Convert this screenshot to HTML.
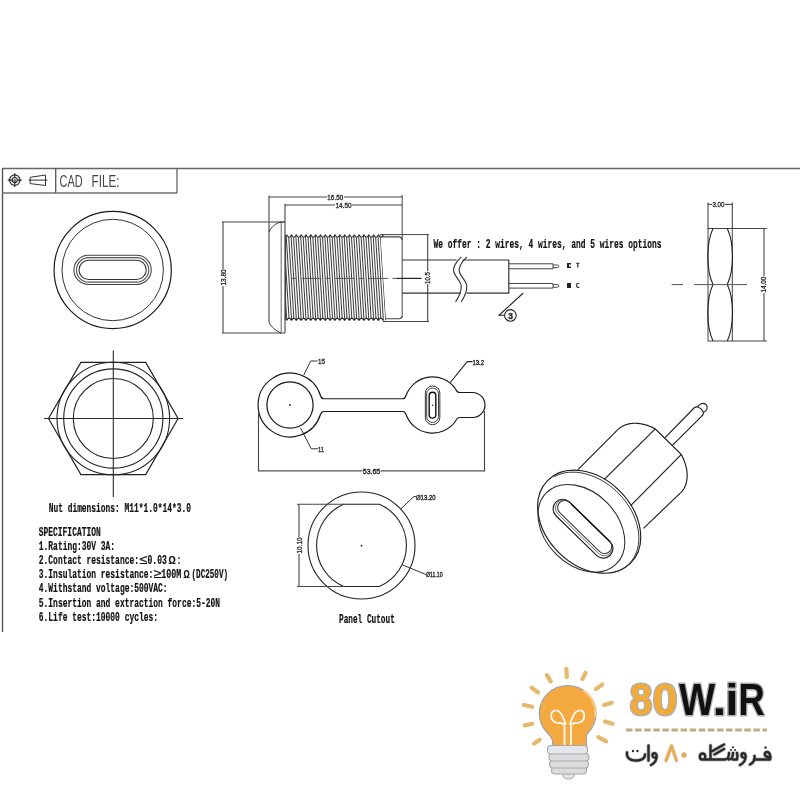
<!DOCTYPE html>
<html><head><meta charset="utf-8"><style>
html,body{margin:0;padding:0;background:#fff;width:800px;height:800px;overflow:hidden}
svg{display:block;will-change:transform}
</style></head><body>
<svg width="800" height="800" viewBox="0 0 800 800">
<rect width="800" height="800" fill="#fff"/>
<line x1="2.5" y1="168.5" x2="800" y2="168.5" stroke="#666" stroke-width="1.3" />
<line x1="2.5" y1="168" x2="2.5" y2="632" stroke="#555" stroke-width="1.4" />
<line x1="2.5" y1="193" x2="177" y2="193" stroke="#707070" stroke-width="1.7" />
<line x1="177" y1="168" x2="177" y2="193" stroke="#666" stroke-width="1.3" />
<line x1="55.7" y1="168" x2="55.7" y2="193" stroke="#555" stroke-width="1.3" />
<circle cx="14.75" cy="180.1" r="5.2" stroke="#222" stroke-width="1.1" fill="none"/>
<circle cx="14.75" cy="180.1" r="2.6" stroke="#222" stroke-width="1.1" fill="none"/>
<path d="M7.8,180.1 H12.1 M17.4,180.1 H21.7 M14.75,173.2 V177.5 M14.75,182.7 V187" stroke="#222" stroke-width="1.1" fill="none" />
<path d="M13.7,181.3 L14.75,178.9 L15.8,181.3 Z" stroke="#333" stroke-width="0.8" fill="none" />
<path d="M30.2,177.3 L45.5,175 L45.5,185.5 L30.2,183.6 Z" stroke="#333" stroke-width="1" fill="none" />
<line x1="28.5" y1="180.1" x2="47.4" y2="180.1" stroke="#333" stroke-width="1" />
<text x="59.6" y="186.6" font-family="Liberation Sans" font-size="16" font-weight="normal" fill="#444" text-anchor="start" textLength="23" lengthAdjust="spacingAndGlyphs" >CAD</text>
<text x="91.6" y="186.6" font-family="Liberation Sans" font-size="16" font-weight="normal" fill="#444" text-anchor="start" textLength="27.8" lengthAdjust="spacingAndGlyphs" >FILE:</text>
<circle cx="112.7" cy="270" r="58.6" stroke="#1a1a1a" stroke-width="1.2" fill="none"/>
<circle cx="112.7" cy="270" r="50.7" stroke="#333" stroke-width="1" fill="none"/>
<path d="M88.5,255.29999999999998 H136.65 A14.6,14.6 0 0 1 136.65,284.5 H88.5 A14.6,14.6 0 0 1 88.5,255.29999999999998 Z" stroke="#444" stroke-width="1.1" fill="none" />
<path d="M88.75,257.65 H136.5 A12.25,12.25 0 0 1 136.5,282.15 H88.75 A12.25,12.25 0 0 1 88.75,257.65 Z" stroke="#555" stroke-width="1.1" fill="none" />
<path d="M88.6,260.29999999999995 H136.65 A9.6,9.6 0 0 1 136.65,279.5 H88.6 A9.6,9.6 0 0 1 88.6,260.29999999999995 Z" stroke="#333" stroke-width="1.1" fill="none" />
<line x1="269" y1="195.6" x2="269" y2="232" stroke="#444" stroke-width="1.1" />
<line x1="269" y1="197" x2="402.2" y2="197" stroke="#444" stroke-width="1.1" />
<line x1="402.2" y1="195" x2="402.2" y2="317" stroke="#444" stroke-width="1" />
<rect x="327" y="193" width="17" height="7" fill="#fff"/>
<text x="335.3" y="199.5" font-family="Liberation Sans" font-size="7" font-weight="normal" fill="#333" text-anchor="middle" textLength="16" lengthAdjust="spacingAndGlyphs"  stroke="#333" stroke-width="0.35">16.50</text>
<line x1="285" y1="203.8" x2="285" y2="222" stroke="#444" stroke-width="1.1" />
<line x1="285" y1="205" x2="402.2" y2="205" stroke="#444" stroke-width="1.1" />
<rect x="335" y="201" width="17" height="7" fill="#fff"/>
<text x="343.5" y="207.5" font-family="Liberation Sans" font-size="7" font-weight="normal" fill="#333" text-anchor="middle" textLength="16" lengthAdjust="spacingAndGlyphs"  stroke="#333" stroke-width="0.35">14.50</text>
<line x1="222" y1="222" x2="285" y2="222" stroke="#444" stroke-width="1.1" />
<line x1="222" y1="333" x2="281" y2="333" stroke="#444" stroke-width="1.1" />
<line x1="223" y1="222" x2="223" y2="333" stroke="#444" stroke-width="1.1" />
<rect x="219" y="269" width="8" height="17" fill="#fff"/>
<text x="225.5" y="277.5" font-family="Liberation Sans" font-size="7" font-weight="normal" fill="#333" text-anchor="middle" textLength="16" lengthAdjust="spacingAndGlyphs" transform="rotate(-90 225.5 277.5)"  stroke="#333" stroke-width="0.35">13.80</text>
<path d="M269,232 C271,227 276,223 281,222" stroke="#333" stroke-width="1" fill="none" />
<path d="M269,322 C271,327 276,331 281,333" stroke="#333" stroke-width="1" fill="none" />
<line x1="269" y1="232" x2="269" y2="322" stroke="#444" stroke-width="1.1" />
<line x1="281.2" y1="222" x2="281.2" y2="333" stroke="#666" stroke-width="1" />
<line x1="285" y1="222" x2="285" y2="333" stroke="#444" stroke-width="1.1" />
<line x1="280" y1="222" x2="285" y2="222" stroke="#444" stroke-width="1" />
<line x1="280" y1="333" x2="285" y2="333" stroke="#444" stroke-width="1" />
<clipPath id="thc"><polygon points="285.00,234.80 286.70,234.80 287.30,235.79 287.91,236.64 288.51,237.20 289.12,237.40 289.72,237.20 290.32,236.64 290.93,235.79 291.53,234.80 292.13,235.79 292.74,236.64 293.34,237.20 293.94,237.40 294.55,237.20 295.15,236.64 295.76,235.79 296.36,234.80 296.96,235.79 297.57,236.64 298.17,237.20 298.77,237.40 299.38,237.20 299.98,236.64 300.59,235.79 301.19,234.80 301.79,235.79 302.40,236.64 303.00,237.20 303.61,237.40 304.21,237.20 304.81,236.64 305.42,235.79 306.02,234.80 306.62,235.79 307.23,236.64 307.83,237.20 308.44,237.40 309.04,237.20 309.64,236.64 310.25,235.79 310.85,234.80 311.45,235.79 312.06,236.64 312.66,237.20 313.26,237.40 313.87,237.20 314.47,236.64 315.08,235.79 315.68,234.80 316.28,235.79 316.89,236.64 317.49,237.20 318.09,237.40 318.70,237.20 319.30,236.64 319.91,235.79 320.51,234.80 321.11,235.79 321.72,236.64 322.32,237.20 322.93,237.40 323.53,237.20 324.13,236.64 324.74,235.79 325.34,234.80 325.94,235.79 326.55,236.64 327.15,237.20 327.75,237.40 328.36,237.20 328.96,236.64 329.57,235.79 330.17,234.80 330.77,235.79 331.38,236.64 331.98,237.20 332.58,237.40 333.19,237.20 333.79,236.64 334.40,235.79 335.00,234.80 335.60,235.79 336.21,236.64 336.81,237.20 337.41,237.40 338.02,237.20 338.62,236.64 339.23,235.79 339.83,234.80 340.43,235.79 341.04,236.64 341.64,237.20 342.25,237.40 342.85,237.20 343.45,236.64 344.06,235.79 344.66,234.80 345.26,235.79 345.87,236.64 346.47,237.20 347.07,237.40 347.68,237.20 348.28,236.64 348.89,235.79 349.49,234.80 350.09,235.79 350.70,236.64 351.30,237.20 351.90,237.40 352.51,237.20 353.11,236.64 353.72,235.79 354.32,234.80 354.92,235.79 355.53,236.64 356.13,237.20 356.74,237.40 357.34,237.20 357.94,236.64 358.55,235.79 359.15,234.80 359.75,235.79 360.36,236.64 360.96,237.20 361.56,237.40 362.17,237.20 362.77,236.64 363.38,235.79 363.98,234.80 364.58,235.79 365.19,236.64 365.79,237.20 366.39,237.40 367.00,237.20 367.60,236.64 368.21,235.79 368.81,234.80 369.41,235.79 370.02,236.64 370.62,237.20 371.23,237.40 371.83,237.20 372.43,236.64 373.04,235.79 373.64,234.80 374.24,235.79 374.85,236.64 375.45,237.20 376.06,237.40 376.66,237.20 377.26,236.64 377.87,235.79 378.47,234.80 379.07,235.79 379.68,236.64 380.28,237.20 380.88,237.40 381.49,237.20 382.09,236.64 382.70,235.79 383.30,234.80 380.50,234.80 386.00,320.60 383.20,320.60 382.60,319.61 381.99,318.76 381.39,318.20 380.79,318.00 380.18,318.20 379.58,318.76 378.97,319.61 378.37,320.60 377.77,319.61 377.16,318.76 376.56,318.20 375.96,318.00 375.35,318.20 374.75,318.76 374.14,319.61 373.54,320.60 372.94,319.61 372.33,318.76 371.73,318.20 371.12,318.00 370.52,318.20 369.92,318.76 369.31,319.61 368.71,320.60 368.11,319.61 367.50,318.76 366.90,318.20 366.30,318.00 365.69,318.20 365.09,318.76 364.48,319.61 363.88,320.60 363.28,319.61 362.67,318.76 362.07,318.20 361.47,318.00 360.86,318.20 360.26,318.76 359.65,319.61 359.05,320.60 358.45,319.61 357.84,318.76 357.24,318.20 356.63,318.00 356.03,318.20 355.43,318.76 354.82,319.61 354.22,320.60 353.62,319.61 353.01,318.76 352.41,318.20 351.81,318.00 351.20,318.20 350.60,318.76 349.99,319.61 349.39,320.60 348.79,319.61 348.18,318.76 347.58,318.20 346.98,318.00 346.37,318.20 345.77,318.76 345.16,319.61 344.56,320.60 343.96,319.61 343.35,318.76 342.75,318.20 342.15,318.00 341.54,318.20 340.94,318.76 340.33,319.61 339.73,320.60 339.13,319.61 338.52,318.76 337.92,318.20 337.32,318.00 336.71,318.20 336.11,318.76 335.50,319.61 334.90,320.60 334.30,319.61 333.69,318.76 333.09,318.20 332.49,318.00 331.88,318.20 331.28,318.76 330.67,319.61 330.07,320.60 329.47,319.61 328.86,318.76 328.26,318.20 327.66,318.00 327.05,318.20 326.45,318.76 325.84,319.61 325.24,320.60 324.64,319.61 324.03,318.76 323.43,318.20 322.83,318.00 322.22,318.20 321.62,318.76 321.01,319.61 320.41,320.60 319.81,319.61 319.20,318.76 318.60,318.20 318.00,318.00 317.39,318.20 316.79,318.76 316.18,319.61 315.58,320.60 314.98,319.61 314.37,318.76 313.77,318.20 313.17,318.00 312.56,318.20 311.96,318.76 311.35,319.61 310.75,320.60 310.15,319.61 309.54,318.76 308.94,318.20 308.34,318.00 307.73,318.20 307.13,318.76 306.52,319.61 305.92,320.60 305.32,319.61 304.71,318.76 304.11,318.20 303.50,318.00 302.90,318.20 302.30,318.76 301.69,319.61 301.09,320.60 300.49,319.61 299.88,318.76 299.28,318.20 298.68,318.00 298.07,318.20 297.47,318.76 296.86,319.61 296.26,320.60 295.66,319.61 295.05,318.76 294.45,318.20 293.85,318.00 293.24,318.20 292.64,318.76 292.03,319.61 291.43,320.60 290.83,319.61 290.22,318.76 289.62,318.20 289.02,318.00 288.41,318.20 287.81,318.76 287.20,319.61 286.60,320.60 285.00,320.60"/></clipPath>
<path clip-path="url(#thc)" d="M278.75,233 L284.45,322 M281.17,233 L286.87,322 M283.58,233 L289.28,322 M286.00,233 L291.70,322 M288.42,233 L294.12,322 M290.83,233 L296.53,322 M293.25,233 L298.94,322 M295.66,233 L301.36,322 M298.07,233 L303.77,322 M300.49,233 L306.19,322 M302.90,233 L308.60,322 M305.32,233 L311.02,322 M307.74,233 L313.44,322 M310.15,233 L315.85,322 M312.56,233 L318.26,322 M314.98,233 L320.68,322 M317.39,233 L323.09,322 M319.81,233 L325.51,322 M322.23,233 L327.93,322 M324.64,233 L330.34,322 M327.06,233 L332.75,322 M329.47,233 L335.17,322 M331.88,233 L337.58,322 M334.30,233 L340.00,322 M336.72,233 L342.42,322 M339.13,233 L344.83,322 M341.55,233 L347.25,322 M343.96,233 L349.66,322 M346.38,233 L352.07,322 M348.79,233 L354.49,322 M351.20,233 L356.90,322 M353.62,233 L359.32,322 M356.03,233 L361.73,322 M358.45,233 L364.15,322 M360.87,233 L366.56,322 M363.28,233 L368.98,322 M365.69,233 L371.39,322 M368.11,233 L373.81,322 M370.52,233 L376.22,322 M372.94,233 L378.64,322 M375.36,233 L381.06,322 M377.77,233 L383.47,322 M380.19,233 L385.88,322 M382.60,233 L388.30,322 M385.01,233 L390.71,322" stroke="#3a3a3a" stroke-width="1.0" fill="none"/>
<path d="M286.70,234.8 Q289.12,239.8 291.53,234.8 M291.53,234.8 Q293.94,239.8 296.36,234.8 M296.36,234.8 Q298.78,239.8 301.19,234.8 M301.19,234.8 Q303.61,239.8 306.02,234.8 M306.02,234.8 Q308.44,239.8 310.85,234.8 M310.85,234.8 Q313.26,239.8 315.68,234.8 M315.68,234.8 Q318.10,239.8 320.51,234.8 M320.51,234.8 Q322.93,239.8 325.34,234.8 M325.34,234.8 Q327.75,239.8 330.17,234.8 M330.17,234.8 Q332.58,239.8 335.00,234.8 M335.00,234.8 Q337.42,239.8 339.83,234.8 M339.83,234.8 Q342.25,239.8 344.66,234.8 M344.66,234.8 Q347.07,239.8 349.49,234.8 M349.49,234.8 Q351.91,239.8 354.32,234.8 M354.32,234.8 Q356.74,239.8 359.15,234.8 M359.15,234.8 Q361.56,239.8 363.98,234.8 M363.98,234.8 Q366.40,239.8 368.81,234.8 M368.81,234.8 Q371.23,239.8 373.64,234.8 M373.64,234.8 Q376.06,239.8 378.47,234.8 M378.47,234.8 Q380.88,239.8 383.30,234.8" stroke="#222" stroke-width="1.1" fill="none" />
<path d="M286.60,320.6 Q289.02,315.6 291.43,320.6 M291.43,320.6 Q293.85,315.6 296.26,320.6 M296.26,320.6 Q298.68,315.6 301.09,320.6 M301.09,320.6 Q303.51,315.6 305.92,320.6 M305.92,320.6 Q308.34,315.6 310.75,320.6 M310.75,320.6 Q313.17,315.6 315.58,320.6 M315.58,320.6 Q318.00,315.6 320.41,320.6 M320.41,320.6 Q322.83,315.6 325.24,320.6 M325.24,320.6 Q327.66,315.6 330.07,320.6 M330.07,320.6 Q332.49,315.6 334.90,320.6 M334.90,320.6 Q337.32,315.6 339.73,320.6 M339.73,320.6 Q342.15,315.6 344.56,320.6 M344.56,320.6 Q346.98,315.6 349.39,320.6 M349.39,320.6 Q351.81,315.6 354.22,320.6 M354.22,320.6 Q356.64,315.6 359.05,320.6 M359.05,320.6 Q361.47,315.6 363.88,320.6 M363.88,320.6 Q366.30,315.6 368.71,320.6 M368.71,320.6 Q371.13,315.6 373.54,320.6 M373.54,320.6 Q375.96,315.6 378.37,320.6 M378.37,320.6 Q380.79,315.6 383.20,320.6" stroke="#222" stroke-width="1.1" fill="none" />
<line x1="285.5" y1="235" x2="285.5" y2="320" stroke="#444" stroke-width="1.2" />
<line x1="380" y1="234.6" x2="429" y2="234.6" stroke="#444" stroke-width="1" />
<path d="M381,236.9 H399 Q402,236.9 402,240" stroke="#444" stroke-width="1.1" fill="none" />
<path d="M385,318.7 H399 Q402,318.7 402,316" stroke="#444" stroke-width="1.1" fill="none" />
<line x1="383" y1="321.5" x2="429" y2="321.5" stroke="#444" stroke-width="1" />
<path d="M292.0,278.4 H296.5 M301.7,278.4 H321.2 M325.5,278.4 H330.0 M335.2,278.4 H354.7 M359.0,278.4 H363.5 M368.7,278.4 H388.2 M392.5,278.4 H397.0" stroke="#555" stroke-width="1" fill="none"/>
<line x1="397" y1="278.4" x2="421.6" y2="278.4" stroke="#222" stroke-width="1.2" />
<line x1="427.7" y1="234.6" x2="427.7" y2="321.3" stroke="#444" stroke-width="1.1" />
<rect x="424" y="271" width="8" height="13" fill="#fff"/>
<text x="430.2" y="278" font-family="Liberation Sans" font-size="7" font-weight="normal" fill="#333" text-anchor="middle" textLength="12" lengthAdjust="spacingAndGlyphs" transform="rotate(-90 430.2 278)"  stroke="#333" stroke-width="0.35">10.5</text>
<line x1="402.2" y1="260" x2="456.5" y2="260" stroke="#333" stroke-width="1.2" />
<line x1="462.3" y1="260" x2="509" y2="260" stroke="#333" stroke-width="1.2" />
<line x1="402.2" y1="293.2" x2="460.8" y2="293.2" stroke="#333" stroke-width="1.2" />
<line x1="466.5" y1="293.2" x2="509" y2="293.2" stroke="#333" stroke-width="1.2" />
<line x1="508.8" y1="260" x2="508.8" y2="293.2" stroke="#333" stroke-width="1.2" />
<path d="M461.3,256.9 C456,262 452.5,267 453.8,272 C455,277 461,281 461.2,286 C461.4,292 458.5,297.5 455.6,301.9" stroke="#333" stroke-width="1.1" fill="none" />
<path d="M466.9,256.9 C461.6,262 458.1,267 459.4,272 C460.6,277 466.6,281 466.8,286 C467,292 464.1,297.5 461.2,301.9" stroke="#333" stroke-width="1.1" fill="none" />
<path d="M509,263.8 H553 V268.8 H509" stroke="#444" stroke-width="1" fill="none" />
<path d="M553,265 H557.5 A1.3,1.3 0 0 1 557.5,267.6 H553" stroke="#444" stroke-width="1" fill="none" />
<path d="M509,283.5 H553 V288.1 H509" stroke="#444" stroke-width="1" fill="none" />
<path d="M553,284.6 H557.5 A1.3,1.3 0 0 1 557.5,287.2 H553" stroke="#444" stroke-width="1" fill="none" />
<path d="M567,263 h4 v1.5 h-2 v2 h2 v1.5 h-4 Z" fill="#222"/>
<path d="M576.3,263.3 h3 M577.8,263.3 v4.3" stroke="#333" stroke-width="1.3" fill="none"/>
<rect x="567" y="283" width="4" height="5" fill="#222"/>
<path d="M579.3,283.5 h-1.5 q-1.3,0 -1.3,1.8 q0,2 1.3,2 h1.5" stroke="#333" stroke-width="1.2" fill="none"/>
<path d="M523.3,293 L499,315.3 H504" stroke="#222" stroke-width="1.1" fill="none" />
<circle cx="510.4" cy="315.4" r="5.8" stroke="#222" stroke-width="1.1" fill="none"/>
<text x="510.6" y="318.6" font-family="Liberation Sans" font-size="8.5" font-weight="bold" fill="#222" text-anchor="middle"  stroke="#222" stroke-width="0.35">3</text>
<text x="433.6" y="248" font-family="Liberation Mono" font-size="12" font-weight="bold" fill="#111" text-anchor="start" textLength="228" lengthAdjust="spacingAndGlyphs" stroke="#111" stroke-width="0.2">We offer : 2 wires, 4 wires, and 5 wires options</text>
<rect x="708" y="228.5" width="24.3" height="112.5" fill="none" stroke="#444" stroke-width="1"/>
<line x1="708" y1="202.5" x2="708" y2="228.5" stroke="#444" stroke-width="1.1" />
<line x1="732.3" y1="202.5" x2="732.3" y2="228.5" stroke="#444" stroke-width="1.1" />
<line x1="708" y1="204.4" x2="732.3" y2="204.4" stroke="#444" stroke-width="1.1" />
<rect x="712" y="201" width="13" height="7" fill="#fff"/>
<text x="718.4" y="207" font-family="Liberation Sans" font-size="7" font-weight="normal" fill="#333" text-anchor="middle" textLength="12" lengthAdjust="spacingAndGlyphs"  stroke="#333" stroke-width="0.35">3.00</text>
<line x1="732.3" y1="228.5" x2="767" y2="228.5" stroke="#444" stroke-width="1.1" />
<line x1="732.3" y1="341" x2="767" y2="341" stroke="#444" stroke-width="1.1" />
<line x1="764" y1="228.5" x2="764" y2="341" stroke="#444" stroke-width="1.1" />
<rect x="760" y="276" width="8" height="17" fill="#fff"/>
<text x="766.5" y="284.6" font-family="Liberation Sans" font-size="7" font-weight="normal" fill="#333" text-anchor="middle" textLength="16" lengthAdjust="spacingAndGlyphs" transform="rotate(-90 766.5 284.6)"  stroke="#333" stroke-width="0.35">14.00</text>
<path d="M713,228.5 C709.5,236 707.8,244 707.8,256.5 C707.8,269 709.5,277 713,284.6 C709.5,292 707.8,300 707.8,312.8 C707.8,325.5 709.5,333.5 713,341" stroke="#222" stroke-width="1.1" fill="none" />
<path d="M727.3,228.5 C730.8,236 732.5,244 732.5,256.5 C732.5,269 730.8,277 727.3,284.6 C730.8,292 732.5,300 732.5,312.8 C732.5,325.5 730.8,333.5 727.3,341" stroke="#222" stroke-width="1.1" fill="none" />
<path d="M671.6,284.6 H683 M694,284.6 H747" stroke="#555" stroke-width="1" fill="none"/>
<polygon points="178.10,418.50 145.70,474.62 80.90,474.62 48.50,418.50 80.90,362.38 145.70,362.38" fill="none" stroke="#222" stroke-width="1.2"/>
<circle cx="113.3" cy="418.5" r="56.3" stroke="#222" stroke-width="1.1" fill="none"/>
<circle cx="113.3" cy="418.5" r="49.6" stroke="#222" stroke-width="1.1" fill="none"/>
<circle cx="113.3" cy="418.5" r="40" stroke="#222" stroke-width="1.1" fill="none"/>
<line x1="113.3" y1="350.5" x2="113.3" y2="497" stroke="#2a2a2a" stroke-width="1.1" />
<line x1="44" y1="418.5" x2="183" y2="418.5" stroke="#2a2a2a" stroke-width="1.1" />
<text x="48.7" y="511.5" font-family="Liberation Mono" font-size="12" font-weight="bold" fill="#111" text-anchor="start" textLength="142.2" lengthAdjust="spacingAndGlyphs" stroke="#111" stroke-width="0.2">Nut dimensions: M11*1.0*14*3.0</text>
<path d="M324,398.75 Q321.4,398.75 320.45,395.5 A31.9,31.9 0 1 0 320.45,414.5 Q321.4,411.5 324,411.5 H403 Q405,411.5 406.05,414.5 A28.1,28.1 0 0 0 455.6,421 Q457,417.5 460,417.5 H472.5 A12.5,12.5 0 0 0 472.5,392.5 H460 Q457,392.5 455.6,389 A28.1,28.1 0 0 0 406.05,395.5 Q405,398.75 403,398.75 Z" stroke="#1a1a1a" stroke-width="1.2" fill="none" />
<circle cx="290" cy="405" r="23.1" stroke="#1a1a1a" stroke-width="1.2" fill="none"/>
<circle cx="290" cy="405" r="0.9" stroke="#222" stroke-width="0" fill="#222"/>
<path d="M425.35,393.15 A7.25,7.25 0 0 1 439.85,393.15 V417.45 A7.25,7.25 0 0 1 425.35,417.45 Z" stroke="#333" stroke-width="1" fill="none" />
<path d="M426.70000000000005,393.9 A5.9,5.9 0 0 1 438.5,393.9 V416.6 A5.9,5.9 0 0 1 426.70000000000005,416.6 Z" stroke="#444" stroke-width="1" fill="none" />
<path d="M429.2,395.5 A3.3,3.3 0 0 1 435.8,395.5 V414.8 A3.3,3.3 0 0 1 429.2,414.8 Z" stroke="#111" stroke-width="1.4" fill="none" />
<circle cx="432.5" cy="405.3" r="0.8" stroke="#222" stroke-width="0" fill="#222"/>
<path d="M303.8,375 L310.6,361 H317.5" stroke="#333" stroke-width="1" fill="none" />
<text x="318" y="364" font-family="Liberation Sans" font-size="7" font-weight="normal" fill="#333" text-anchor="start" textLength="7" lengthAdjust="spacingAndGlyphs"  stroke="#333" stroke-width="0.35">15</text>
<path d="M300.6,428.1 L311.2,448.8 H318" stroke="#333" stroke-width="1" fill="none" />
<text x="318" y="451.5" font-family="Liberation Sans" font-size="7" font-weight="normal" fill="#333" text-anchor="start" textLength="6" lengthAdjust="spacingAndGlyphs"  stroke="#333" stroke-width="0.35">11</text>
<path d="M450.3,382.5 L467.2,361.6 H472.5" stroke="#222" stroke-width="1.1" fill="none" />
<text x="472.5" y="364.8" font-family="Liberation Sans" font-size="7" font-weight="normal" fill="#222" text-anchor="start" textLength="11.5" lengthAdjust="spacingAndGlyphs"  stroke="#222" stroke-width="0.35">13.2</text>
<line x1="258.5" y1="412" x2="258.5" y2="471.5" stroke="#444" stroke-width="1.1" />
<line x1="484.5" y1="411" x2="484.5" y2="471.5" stroke="#444" stroke-width="1.1" />
<line x1="258.5" y1="470.9" x2="362.5" y2="470.9" stroke="#555" stroke-width="1.1" />
<line x1="380.5" y1="470.9" x2="484.5" y2="470.9" stroke="#555" stroke-width="1.1" />
<text x="371.5" y="473.6" font-family="Liberation Sans" font-size="7" font-weight="normal" fill="#222" text-anchor="middle" textLength="17.5" lengthAdjust="spacingAndGlyphs"  stroke="#222" stroke-width="0.35">53.65</text>
<circle cx="361.5" cy="545.5" r="53.5" stroke="#222" stroke-width="1.1" fill="none"/>
<path d="M343.7,504.3 H379.3 A44.7,44.7 0 0 1 379.3,586.5 H343.7 A44.7,44.7 0 0 1 343.7,504.3 Z" stroke="#222" stroke-width="1.1" fill="none" />
<circle cx="361.5" cy="545.7" r="0.9" stroke="#222" stroke-width="0" fill="#222"/>
<line x1="297" y1="504.3" x2="344" y2="504.3" stroke="#444" stroke-width="1.1" />
<line x1="297" y1="586.5" x2="344" y2="586.5" stroke="#444" stroke-width="1.1" />
<line x1="299" y1="504.3" x2="299" y2="586.5" stroke="#444" stroke-width="1.1" />
<rect x="295" y="537" width="8" height="17" fill="#fff"/>
<text x="301.5" y="545.5" font-family="Liberation Sans" font-size="7" font-weight="normal" fill="#333" text-anchor="middle" textLength="16" lengthAdjust="spacingAndGlyphs" transform="rotate(-90 301.5 545.5)"  stroke="#333" stroke-width="0.35">10.10</text>
<path d="M400.9,508.8 L413.8,496.6 H416" stroke="#333" stroke-width="1" fill="none" />
<text x="416" y="499.8" font-family="Liberation Sans" font-size="7" font-weight="normal" fill="#222" text-anchor="start" textLength="19.5" lengthAdjust="spacingAndGlyphs"  stroke="#222" stroke-width="0.35">Ø13.20</text>
<path d="M402.6,565 L426,574.5" stroke="#333" stroke-width="1" fill="none" />
<text x="426" y="577" font-family="Liberation Sans" font-size="7" font-weight="normal" fill="#222" text-anchor="start" textLength="16.5" lengthAdjust="spacingAndGlyphs"  stroke="#222" stroke-width="0.35">Ø11.10</text>
<text x="339" y="622.9" font-family="Liberation Mono" font-size="12" font-weight="bold" fill="#111" text-anchor="start" textLength="55.8" lengthAdjust="spacingAndGlyphs" stroke="#111" stroke-width="0.2">Panel Cutout</text>
<text x="38.8" y="535.6" font-family="Liberation Mono" font-size="12" font-weight="bold" fill="#111" text-anchor="start" textLength="61.9" lengthAdjust="spacingAndGlyphs" stroke="#111" stroke-width="0.2">SPECIFICATION</text>
<text x="38.8" y="549.6" font-family="Liberation Mono" font-size="12" font-weight="bold" fill="#111" text-anchor="start" textLength="76.32" lengthAdjust="spacingAndGlyphs" stroke="#111" stroke-width="0.2">1.Rating:30V 3A:</text>
<text x="38.8" y="563.5" font-family="Liberation Mono" font-size="12" font-weight="bold" fill="#111" text-anchor="start" textLength="100.17" lengthAdjust="spacingAndGlyphs" stroke="#111" stroke-width="0.2">2.Contact resistance:</text>
<text x="139.5" y="563.8" font-family="Liberation Sans" font-size="13.5" font-weight="normal" fill="#111" text-anchor="start" textLength="8" lengthAdjust="spacingAndGlyphs" stroke="#111" stroke-width="0.2">≤</text>
<text x="147.5" y="563.5" font-family="Liberation Mono" font-size="12" font-weight="bold" fill="#111" text-anchor="start" textLength="19.4" lengthAdjust="spacingAndGlyphs" stroke="#111" stroke-width="0.2">0.03</text>
<text x="168.5" y="563.5" font-family="Liberation Sans" font-size="10" font-weight="bold" fill="#111" text-anchor="start" textLength="7.2" lengthAdjust="spacingAndGlyphs" stroke="#111" stroke-width="0.2">Ω</text>
<text x="177" y="563.5" font-family="Liberation Mono" font-size="12" font-weight="bold" fill="#111" text-anchor="start" textLength="4" lengthAdjust="spacingAndGlyphs" stroke="#111" stroke-width="0.2">:</text>
<text x="38.8" y="578.1" font-family="Liberation Mono" font-size="12" font-weight="bold" fill="#111" text-anchor="start" textLength="114.48" lengthAdjust="spacingAndGlyphs" stroke="#111" stroke-width="0.2">3.Insulation resistance:</text>
<text x="153.5" y="578.4" font-family="Liberation Sans" font-size="13.5" font-weight="normal" fill="#111" text-anchor="start" textLength="8" lengthAdjust="spacingAndGlyphs" stroke="#111" stroke-width="0.2">≥</text>
<text x="161.3" y="578.1" font-family="Liberation Mono" font-size="12" font-weight="bold" fill="#111" text-anchor="start" textLength="20" lengthAdjust="spacingAndGlyphs" stroke="#111" stroke-width="0.2">100M</text>
<text x="183.5" y="578.1" font-family="Liberation Sans" font-size="10" font-weight="bold" fill="#111" text-anchor="start" textLength="6.2" lengthAdjust="spacingAndGlyphs" stroke="#111" stroke-width="0.2">Ω</text>
<text x="191.5" y="578.1" font-family="Liberation Mono" font-size="12" font-weight="bold" fill="#111" text-anchor="start" textLength="36.5" lengthAdjust="spacingAndGlyphs" stroke="#111" stroke-width="0.2">(DC250V)</text>
<text x="38.8" y="592.2" font-family="Liberation Mono" font-size="12" font-weight="bold" fill="#111" text-anchor="start" textLength="128.79" lengthAdjust="spacingAndGlyphs" stroke="#111" stroke-width="0.2">4.Withstand voltage:500VAC:</text>
<text x="38.8" y="606.6" font-family="Liberation Mono" font-size="12" font-weight="bold" fill="#111" text-anchor="start" textLength="181.26" lengthAdjust="spacingAndGlyphs" stroke="#111" stroke-width="0.2">5.Insertion and extraction force:5-20N</text>
<text x="38.8" y="620.5" font-family="Liberation Mono" font-size="12" font-weight="bold" fill="#111" text-anchor="start" textLength="119.25" lengthAdjust="spacingAndGlyphs" stroke="#111" stroke-width="0.2">6.Life test:10000 cycles:</text>
<ellipse cx="589.2" cy="521.7" rx="58.55" ry="43.3" transform="rotate(45 589.2 521.7)" fill="none" stroke="#1e1e1e" stroke-width="1.15"/>
<path d="M554.29,476.62 L556.43,475.54 L558.67,474.61 L561.00,473.82 L563.41,473.18 L565.89,472.70 L568.45,472.36 L571.06,472.19 L573.73,472.16 L576.44,472.30 L579.19,472.58 L581.96,473.02 L584.75,473.62 L587.55,474.36 L590.36,475.25 L593.15,476.29 L595.93,477.47 L598.69,478.79 L601.42,480.24 L604.10,481.82 L606.74,483.53 L609.32,485.36 L611.83,487.30 L614.27,489.35 L616.63,491.51 L618.91,493.76 L621.09,496.10 L623.17,498.52 L625.14,501.01 L627.00,503.58 L628.74,506.20 L630.36,508.87 L631.85,511.59 L633.20,514.34 L634.42,517.11 L635.49,519.91 L636.42,522.71 L637.20,525.51 L637.84,528.31 L638.32,531.09 L638.64,533.84 L638.82,536.56 L638.83,539.24 L638.70,541.87 L638.41,544.44 L637.96,546.95 L637.36,549.38 L636.62,551.73 L635.72,553.99 L634.68,556.16 L633.49,558.23 L632.17,560.18 L630.72,562.03 L629.13,563.75 L627.42,565.35 L625.58,566.83 L623.64,568.16 L621.58,569.36 L619.42,570.42 L617.17,571.33 L614.83,572.09" stroke="#333" stroke-width="1.0" fill="none" />
<ellipse cx="581.4" cy="528.3" rx="49.9" ry="36.2" transform="rotate(46 581.4 528.3)" fill="none" stroke="#2a2a2a" stroke-width="1.05"/>
<path d="M617.83,429.68 L618.65,428.91 L619.52,428.18 L620.42,427.50 L621.37,426.87 L622.36,426.28 L623.38,425.75 L624.44,425.27 L625.54,424.83 L626.67,424.45 L627.84,424.13 L629.03,423.85 L630.26,423.63 L631.51,423.46 L632.78,423.35 L634.08,423.29 L635.41,423.28 L636.75,423.33 L638.11,423.44 L639.48,423.59 L640.87,423.80 L642.27,424.07 L643.69,424.38 L645.11,424.75 L646.53,425.17 L647.96,425.65 L649.39,426.17 L650.83,426.74 L652.26,427.36 L653.68,428.04 L655.10,428.75 L681.21,454.44 L681.97,455.88 L682.69,457.33 L683.35,458.79 L683.97,460.25 L684.53,461.72 L685.04,463.18 L685.50,464.64 L685.90,466.09 L686.25,467.54 L686.54,468.97 L686.78,470.40 L686.96,471.81 L687.09,473.21 L687.16,474.58 L687.17,475.94 L687.12,477.28 L687.02,478.59 L686.87,479.87 L686.65,481.13 L686.39,482.36 L686.06,483.55 L685.68,484.72 L685.25,485.84 L684.77,486.93 L684.23,487.99 L683.63,489.00 L682.99,489.97 L682.30,490.90 L681.56,491.78 L680.77,492.62" stroke="#1e1e1e" stroke-width="1.15" fill="none" />
<line x1="578" y1="469.6" x2="617.8" y2="429.65" stroke="#1e1e1e" stroke-width="1.15" />
<line x1="680.8" y1="492.6" x2="643.5" y2="528.3" stroke="#1e1e1e" stroke-width="1.15" />
<line x1="655" y1="429.1" x2="604.3" y2="479.4" stroke="#1e1e1e" stroke-width="1.15" />
<line x1="681.4" y1="454.4" x2="630.9" y2="505.3" stroke="#1e1e1e" stroke-width="1.15" />
<path d="M665.1,437.6 L694.5,407.5 Q696,406.5 697.5,407" stroke="#1e1e1e" stroke-width="1.15" fill="none" />
<path d="M672.4,445.4 L702.5,415.5 Q703.5,414 703.5,412.5" stroke="#1e1e1e" stroke-width="1.15" fill="none" />
<path d="M697.5,407 Q702,408.5 703.5,412.5" stroke="#1e1e1e" stroke-width="1.15" fill="none" />
<path d="M697.5,407 C699,404 703,402 706,404.5 C708.5,407 707,411 703.5,412.5" stroke="#1e1e1e" stroke-width="1.15" fill="none" />
<rect x="545.00" y="519.10" width="76" height="19.2" rx="9.6" ry="9.6" transform="rotate(44.3 583 528.7)" fill="none" stroke="#1e1e1e" stroke-width="1.15"/>
<rect x="547.41" y="519.57" width="73" height="16.4" rx="8.2" ry="8.2" transform="rotate(44.3 583.9087 527.7705000000001)" fill="none" stroke="#555" stroke-width="0.8"/>
<rect x="549.68" y="519.88" width="70" height="14.2" rx="7.1" ry="7.1" transform="rotate(44.3 584.6776 526.984)" fill="none" stroke="#333" stroke-width="1.0"/>
<line x1="571.25" y1="504" x2="609.75" y2="541.6" stroke="#111" stroke-width="1.3" />
<g stroke="#E6B86E" stroke-width="4.2" stroke-linecap="round">
<line x1="566.3" y1="668.9" x2="566.9" y2="677.1"/>
<line x1="546.8" y1="675.1" x2="550.7" y2="681.4"/>
<line x1="531.7" y1="687.7" x2="538.1" y2="692.4"/>
<line x1="523.9" y1="705.0" x2="532.1" y2="706.8"/>
<line x1="524.7" y1="725.4" x2="532.1" y2="723.8"/>
<line x1="534.2" y1="743.6" x2="539.7" y2="739.7"/>
<line x1="582.4" y1="678.9" x2="585.7" y2="672.8"/>
<line x1="595.9" y1="689.1" x2="602.3" y2="684.5"/>
<line x1="604.2" y1="705.0" x2="611.8" y2="702.7"/>
<line x1="605.1" y1="721.5" x2="612.6" y2="723.7"/>
<line x1="598.4" y1="737.1" x2="606.2" y2="741.3"/>
</g>
<path d="M552.7,747 L552.7,741 C552,737 549.5,735 547.5,733 A28.3,27.8 0 1 1 587.8,733 C585.5,735.5 586.5,738 586.5,741 L586.5,747 Z" fill="#F5A941" stroke="#a3a3a3" stroke-width="1.3"/>
<path d="M584,691 C592,697 596,705 595,716" stroke="#F9C983" stroke-width="2.2" fill="none" stroke-linecap="round"/>
<g stroke="#fff" stroke-width="1.7" fill="none" stroke-linecap="round">
<path d="M564.5,746 V727 C564.5,722 561,724 556,722.5 C550,720.5 549.5,711 555.5,710.5 C561,710 563.5,718 565.5,724"/>
<path d="M571,746 V727 C571,722 574.5,724 579.5,722.5 C585.5,720.5 586,711 580,710.5 C574.5,710 572,718 570,724"/>
</g>
<path d="M562.5,773 C562.5,778 565,779 568.5,779 C572,779 574.5,778 574.5,773 Z" fill="#e3e3e3" stroke="#a8a8a8" stroke-width="1"/>
<g stroke="#a8a8a8" stroke-width="1.1">
<rect x="551.5" y="766.5" width="35" height="7.5" rx="3.5" fill="#dcdcdc"/>
<rect x="549.5" y="760.5" width="39" height="7.5" rx="3.5" fill="#dcdcdc"/>
<rect x="549" y="753.5" width="40" height="7.5" rx="3.5" fill="#dcdcdc"/>
<rect x="547.5" y="745.5" width="40" height="8.5" rx="3.5" fill="#e4e8ee"/>
</g>
<text transform="translate(629.70,714.5) scale(0.918,1)" font-family="Liberation Sans" font-weight="bold" font-size="44.3" fill="#F5AA33" stroke="#b0b0b0" stroke-width="3" paint-order="stroke" stroke-linejoin="round">8</text>
<text transform="translate(652.73,714.5) scale(1.000,1)" font-family="Liberation Sans" font-weight="bold" font-size="44.3" fill="#F5AA33" stroke="#b0b0b0" stroke-width="3" paint-order="stroke" stroke-linejoin="round">0</text>
<text transform="translate(678.96,714.5) scale(0.864,1)" font-family="Liberation Sans" font-weight="bold" font-size="44.3" fill="#111" stroke="#b0b0b0" stroke-width="3" paint-order="stroke" stroke-linejoin="round">W</text>
<text transform="translate(712.60,714.5) scale(1.129,1)" font-family="Liberation Sans" font-weight="bold" font-size="44.3" fill="#111" stroke="#b0b0b0" stroke-width="3" paint-order="stroke" stroke-linejoin="round">.</text>
<text transform="translate(725.15,714.5) scale(1.079,1)" font-family="Liberation Sans" font-weight="bold" font-size="44.3" fill="#111" stroke="#b0b0b0" stroke-width="3" paint-order="stroke" stroke-linejoin="round">i</text>
<text transform="translate(738.57,714.5) scale(0.820,1)" font-family="Liberation Sans" font-weight="bold" font-size="44.3" fill="#111" stroke="#b0b0b0" stroke-width="3" paint-order="stroke" stroke-linejoin="round">R</text>
<line x1="626" y1="730" x2="767" y2="730" stroke="#c2ab82" stroke-width="3" stroke-dasharray="6.5 2.6" stroke-linecap="butt"/>
<g fill="none" stroke-linecap="round" stroke-linejoin="round">
<path d="M627,752.5 C626,760 634,761.5 640,760 C644,759 645,757 645,754.5 M648.5,745.5 V760.5 M651,765 C655,763 657,759 656.5,755.5 C656,752.5 652.5,752.5 652.5,755.5 C652.5,757.5 655,758 656.5,757.5 M702.5,759.5 C699,759.5 699,754 702.5,753.5 C705.5,753.5 706,757 704,759.5 H724.5 M710.5,745.5 V759.5 M712.5,751 L724,744.5 M714.5,754.5 L724,749 M725,759.5 C729,759.5 729,753 729,753 M729,759.5 C733,759.5 733,753 733,753 M733,759.5 H737 C737.5,757 737.5,755 737,753 M740,765 C744,763 746,759 745.5,755.5 C745,752.5 741.5,752.5 741.5,755.5 C741.5,757.5 744,758 745.5,757.5 M750,764.5 C753,763 755,760 754.5,756 M754,759.5 H770 C771,757 770,752 767,752 C764,752 763.5,757 769,757" stroke="#c6c6c6" stroke-width="4"/>
<path d="M627,752.5 C626,760 634,761.5 640,760 C644,759 645,757 645,754.5 M648.5,745.5 V760.5 M651,765 C655,763 657,759 656.5,755.5 C656,752.5 652.5,752.5 652.5,755.5 C652.5,757.5 655,758 656.5,757.5 M702.5,759.5 C699,759.5 699,754 702.5,753.5 C705.5,753.5 706,757 704,759.5 H724.5 M710.5,745.5 V759.5 M712.5,751 L724,744.5 M714.5,754.5 L724,749 M725,759.5 C729,759.5 729,753 729,753 M729,759.5 C733,759.5 733,753 733,753 M733,759.5 H737 C737.5,757 737.5,755 737,753 M740,765 C744,763 746,759 745.5,755.5 C745,752.5 741.5,752.5 741.5,755.5 C741.5,757.5 744,758 745.5,757.5 M750,764.5 C753,763 755,760 754.5,756 M754,759.5 H770 C771,757 770,752 767,752 C764,752 763.5,757 769,757" stroke="#2a2a2a" stroke-width="2.4"/>
<g fill="#303030" stroke="none"><circle cx="633" cy="751" r="1.2"/><circle cx="637.5" cy="751" r="1.2"/><circle cx="731" cy="750" r="1.1"/><circle cx="735" cy="750" r="1.1"/><circle cx="733" cy="747.3" r="1.1"/><circle cx="765.5" cy="747.5" r="1.2"/></g>
<path d="M666,760.5 L671.5,746 L676.5,760.5" stroke="#c4c4c4" stroke-width="3.8"/>
<path d="M666,760.5 L671.5,746 L676.5,760.5" stroke="#F5AA33" stroke-width="2.2"/>
<circle cx="684" cy="755" r="2.6" fill="#F5AA33" stroke="#c4c4c4" stroke-width="0.9"/>
</g>
</svg>
</body></html>
